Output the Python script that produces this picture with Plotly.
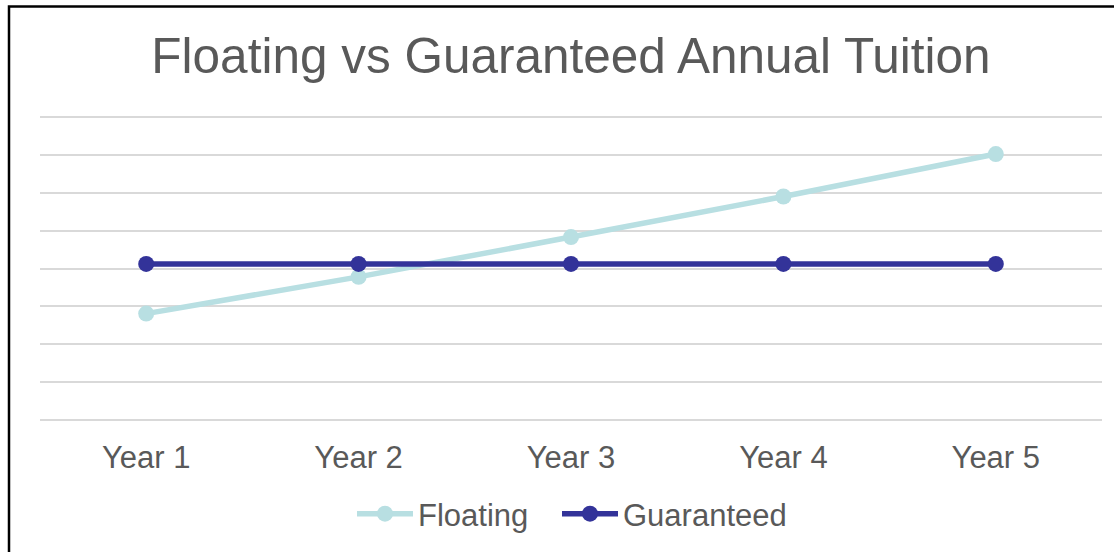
import plotly.graph_objects as go

years = ["Year 1", "Year 2", "Year 3", "Year 4", "Year 5"]
floating = [2.81, 3.78, 4.83, 5.90, 7.02]
guaranteed = [4.12, 4.12, 4.12, 4.12, 4.12]

W, H = 1114, 552
L, R, T, B = 40, 12, 115, 130
pw = W - L - R
ph = H - T - B
pad = 0.05

fig = go.Figure()
fig.add_trace(go.Scatter(
    x=years, y=floating, name="Floating", mode="lines+markers",
    line=dict(color="#b8dfe2", width=5.5),
    marker=dict(color="#b8dfe2", size=16),
    legend="legend",
))
fig.add_trace(go.Scatter(
    x=years, y=guaranteed, name="Guaranteed", mode="lines+markers",
    line=dict(color="#333399", width=5.5),
    marker=dict(color="#333399", size=16),
    legend="legend2",
))

font_family = "Liberation Sans, Arial, sans-serif"
leg_common = dict(orientation="h", xanchor="left", xref="paper",
                  y=(H - 514) / H, yref="container", yanchor="middle",
                  font=dict(size=31, color="#595959"), itemwidth=56,
                  bgcolor="rgba(0,0,0,0)")
fig.update_layout(
    width=W, height=H,
    margin=dict(l=L, r=R, t=T, b=B),
    paper_bgcolor="white", plot_bgcolor="white",
    font=dict(family=font_family, color="#595959"),
    title=dict(text="Floating vs Guaranteed Annual Tuition",
               font=dict(size=49.5, color="#595959", family=font_family),
               x=0.5, xref="paper", xanchor="center",
               y=(H - 56) / H, yref="container", yanchor="middle"),
    xaxis=dict(range=[-0.5, 4.5], showgrid=False, zeroline=False, showline=False,
               ticks="outside", ticklen=0, tickcolor="white",
               tickfont=dict(size=31, color="#595959"), ticklabelstandoff=8),
    yaxis=dict(range=[-pad, 8 + pad], tickvals=[0, 1, 2, 3, 4, 5, 6, 7, 8],
               showticklabels=False, gridcolor="#d9d9d9",
               gridwidth=2, zeroline=False, showline=False),
    showlegend=True,
    legend=dict(x=(352 - L) / pw, **leg_common),
    legend2=dict(x=(557 - L) / pw, **leg_common),
)

# outer chart border (left and top visible)
x_left = (9 - L) / pw
x_right = (W + 20 - L) / pw
y_top = (H - B - 6.5) / ph
y_bot = (H - B - (H + 20)) / ph
fig.add_shape(type="rect", xref="paper", yref="paper",
              x0=x_left, x1=x_right, y0=y_bot, y1=y_top,
              line=dict(color="black", width=2.5), fillcolor="rgba(0,0,0,0)",
              layer="above")

fig.write_html("out.html", config={"displayModeBar": False},
               post_script="document.body.style.margin='0';")
